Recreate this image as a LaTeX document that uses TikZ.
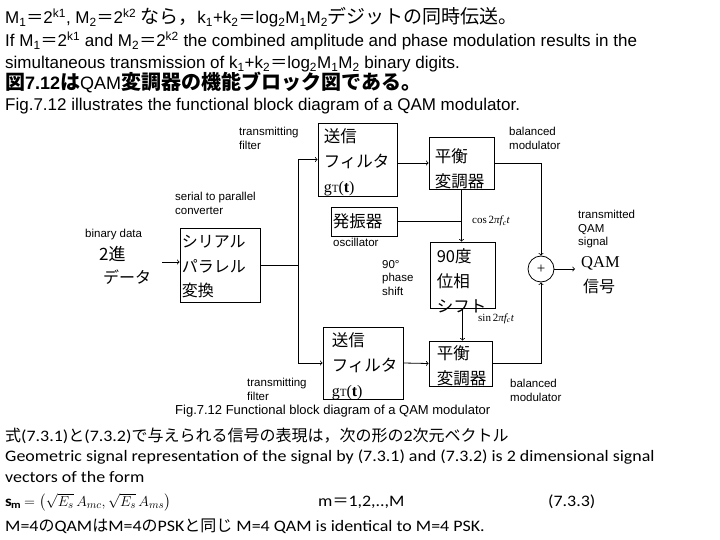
\documentclass[tikz,border=0pt]{standalone}
\usepackage{amsmath}
\usepackage{fontspec}
\setmainfont{Carlito}[FakeStretch=1.12]
\setsansfont{Liberation Sans}
\newfontfamily\jpfont{Noto Sans CJK JP}
\newfontfamily\serfont{Liberation Serif}
\newcommand\J[1]{{\jpfont #1}}
\newcommand\JJ[1]{{\jpfont\fontsize{19}{20}\selectfont #1}}
\newcommand\gT{{\serfont\fontsize{16}{25}\selectfont g{\fontsize{11}{25}\selectfont T}(\textbf{t})}}

\tikzset{
  box/.style={draw, line width=0.8pt, inner sep=0pt},
  jtxt/.style={anchor=north west, align=left, inner sep=0pt, font=\jpfont\fontsize{16.5}{25}\selectfont},
  lbl/.style={anchor=north west, align=left, inner sep=0pt, font=\sffamily\fontsize{11.5}{13.5}\selectfont},
  headtxt/.style={anchor=base west, inner sep=0pt, font=\sffamily\fontsize{17}{20}\selectfont},
  foottxt/.style={anchor=base west, inner sep=0pt, font=\rmfamily\fontsize{16}{18}\selectfont},
  wire/.style={line width=0.8pt},
  arr/.style={line width=0.8pt, ->},
}

\begin{document}
\begin{tikzpicture}[x=1pt, y=-1pt]
\useasboundingbox (0,0) rectangle (720,540);
%% Text above
\node[headtxt] (l1) at (5,24) {M\textsubscript{1}\J{＝}2\textsuperscript{k1}, M\textsubscript{2}\J{＝}2\textsuperscript{k2} \JJ{なら，}k\textsubscript{1}+k\textsubscript{2}\J{＝}log\textsubscript{2}M\textsubscript{1}M\textsubscript{2}\JJ{デジットの同時伝送。}};
\node[headtxt] (l2) at (5,47) {If M\textsubscript{1}\J{＝}2\textsuperscript{k1} and M\textsubscript{2}\J{＝}2\textsuperscript{k2} the combined amplitude and phase modulation results in the};
\node[headtxt] (l3) at (5,69) {simultaneous transmission of k\textsubscript{1}+k\textsubscript{2}\J{＝}log\textsubscript{2}M\textsubscript{1}M\textsubscript{2} binary digits.};
\node[headtxt, font=\sffamily\fontsize{18}{20}\selectfont] (l4) at (5,90) {\bfseries\JJ{\fontsize{20}{20}\selectfont 図}7.12\JJ{\fontsize{20}{20}\selectfont は}\mdseries QAM\bfseries\JJ{\fontsize{20}{20}\selectfont 変調器の機能ブロック図である。}};
\node[headtxt] (l5) at (5,111) {Fig.7.12 illustrates the functional block diagram of a QAM modulator.};

%% Blocks
\node[box, minimum width=80, minimum height=74] (sp) at (220,265) {};
\node[box, minimum width=79, minimum height=73] (filtA) at (357.5,159.5) {};
\node[box, minimum width=65, minimum height=52] (modA) at (461.5,163) {};
\node[box, minimum width=66, minimum height=29] (osc) at (364,221.5) {};
\node[box, minimum width=65, minimum height=66] (shift) at (462.5,275) {};
\node[box, minimum width=80, minimum height=72] (filtB) at (363,363) {};
\node[box, minimum width=63, minimum height=45] (modB) at (460.5,363.5) {};
\node[box, circle, minimum size=26, font=\serfont\fontsize{15}{15}\selectfont] (sum) at (541,269) {+};

%% Text in the blocks
\node[jtxt, font=\jpfont\fontsize{16}{24.5}\selectfont] (sp-t) at ([xshift=2pt,yshift=-7.5pt]sp.north west) {シリアル\\パラレル\\変換};
\node[jtxt] (filtA-t) at ([xshift=6pt,yshift=-6pt]filtA.north west) {送信\\フィルタ\\\gT};
\node[jtxt] (modA-t) at ([xshift=6pt,yshift=-12pt]modA.north west) {平衡\\変調器};
\node[jtxt, anchor=west] (osc-t) at ([xshift=2pt]osc.west) {発振器};
\node[jtxt] (shift-t) at ([xshift=7pt,yshift=-6.5pt]shift.north west) {90度\\位相\\シフト};
\node[jtxt] (filtB-t) at ([xshift=9pt,yshift=-5.5pt]filtB.north west) {送信\\フィルタ\\\gT};
\node[jtxt] (modB-t) at ([xshift=8pt,yshift=-4.5pt]modB.north west) {平衡\\変調器};
\node[jtxt, font=\jpfont\fontsize{17}{24}\selectfont] (bin-a) at (99,246) {2進};
\node[jtxt, font=\jpfont\fontsize{16}{24}\selectfont] (bin-b) at (103,270) {データ};
\node[anchor=base west, inner sep=0pt, font=\serfont\fontsize{16.5}{16}\selectfont] (qam-a) at (581,267) {QAM};
\node[anchor=base west, inner sep=0pt, font=\jpfont\fontsize{16}{16}\selectfont] (qam-b) at (583,292) {信号};

%% Labels
\node[lbl] (sp-l) at (175,192) {serial to parallel\\converter};
\node[lbl] (filtA-l) at (239,127) {transmitting\\filter};
\node[lbl] (modA-l) at (509,127) {balanced\\modulator};
\node[lbl] (bin-l) at (85,229) {binary data};
\node[lbl] (osc-l) at (333,238) {oscillator};
\node[lbl] (shift-l) at (382,260) {90°\\phase\\shift};
\node[lbl] (out-l) at (578,210) {transmitted\\QAM\\signal};
\node[lbl] (filtB-l) at (247,378) {transmitting\\filter};
\node[lbl] (modB-l) at (510,379) {balanced\\modulator};
\node[anchor=base west, inner sep=0pt, font=\serfont\fontsize{11}{11}\selectfont] (cos-l) at (472,224) {cos\,2\textit{πf\textsubscript{c}t}};
\node[anchor=base west, inner sep=0pt, font=\serfont\fontsize{11}{11}\selectfont] (sin-l) at (478,321) {sin\,2\textit{πf\textsubscript{c}t}};
\node[anchor=base west, inner sep=0pt, font=\sffamily\fontsize{13}{15}\selectfont] (cap) at (175,414) {Fig.7.12 Functional block diagram of a QAM modulator};

%% Connectors
\coordinate (in) at (162,262);
\coordinate (split) at (298,265);
\coordinate (out) at (575,269);
\draw[arr] (in) -- (in -| sp.west);
\draw[wire] (sp.east) -- (split);
\draw[arr] (split) |- (filtA.west);
\draw[arr] (split) |- (filtB.west);
\draw[arr] (filtA.east |- modA.west) -- (modA.west);
\draw[arr] (filtB.east) -- (modB.west);
\draw[wire] (osc.east) -- (osc.east -| modA.south);
\draw[arr] (modA.south) -- (modA.south |- shift.north);
\draw[arr] (shift.south) -- (shift.south |- modB.north);
\draw[arr] (modA.east) -| (sum.north);
\draw[arr] (modB.east) -| (sum.south);
\draw[arr] (sum.east) -- (out);

%% Text below
\node[foottxt] (b1) at (5,441) {\J{式}(7.3.1)\J{と}(7.3.2)\J{で与えられる信号の表現は，次の形の}2\J{次元ベクトル}};
\node[foottxt] (b2) at (5,461) {Geometric signal representation of the signal by (7.3.1) and (7.3.2) is 2 dimensional signal};
\node[foottxt] (b3) at (5,482) {vectors of the form};
\node[anchor=base west, inner sep=0pt, font=\fontsize{15}{17}\selectfont] (eq) at (5,506) {$\mathbf{s}_{\mathbf{m}}=\bigl(\sqrt{E_s}\,A_{mc},\sqrt{E_s}\,A_{ms}\bigr)$};
\node[foottxt] (eq-m) at (318,506) {m\J{＝}1,2,..,M};
\node[foottxt] (eq-n) at (548,506) {(7.3.3)};
\node[foottxt] (b5) at (5,531) {M=4\J{の}QAM\J{は}M=4\J{の}PSK\J{と同じ} M=4 QAM is identical to M=4 PSK.};
\end{tikzpicture}
\end{document}
